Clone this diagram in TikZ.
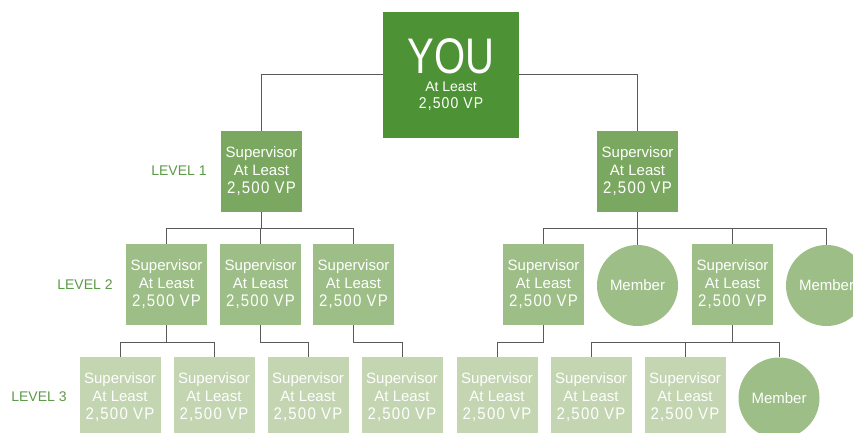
\documentclass[tikz,border=0pt]{standalone}
\usepackage{fontspec}
\setmainfont{Liberation Sans}
\usepackage{graphicx}
\definecolor{cyou}{HTML}{4E9236}
\definecolor{cone}{HTML}{7BA860}
\definecolor{ctwo}{HTML}{9EBE88}
\definecolor{cthree}{HTML}{C4D5B2}
\definecolor{clabel}{HTML}{5A9A48}
\definecolor{cline}{HTML}{5A5A5A}
\newcommand\vpline{\scalebox{1}[1.12]{\addfontfeature{LetterSpace=8}2,500 VP}}
\newcommand\suptext{Supervisor\\At Least\\\vpline}
\tikzset{
  box/.style={rectangle, minimum width=81pt, minimum height=81pt, inner sep=0pt,
    text=white, align=center, font=\fontsize{15}{18}\selectfont},
  lone/.style={box, fill=cone},
  ltwo/.style={box, fill=ctwo},
  lthree/.style={box, fill=cthree},
  member/.style={circle, minimum size=81pt, inner sep=0pt, fill=ctwo, text=white,
    font=\fontsize{15}{18}\selectfont},
  lvl/.style={text=clabel, font=\fontsize{14}{16}\selectfont},
  conn/.style={draw=cline, line width=1pt}
}
\begin{document}
\begin{tikzpicture}[x=1pt,y=-1pt]
\clip (0,0) rectangle (853,433);
\fill[white] (0,0) rectangle (853,433);
% nodes
\node[rectangle, fill=cyou, minimum width=136pt, minimum height=126pt, inner sep=0pt,
  text=white, align=center, font=\fontsize{14}{16}\selectfont] (you) at (451,75)
  {{\fontsize{50}{50}\selectfont\scalebox{0.8}[1]{YOU}}\\[2pt]At Least\\[1pt]\vpline};
\node[lone] (l1a) at (261.5,171.5) {\suptext};
\node[lone] (l1b) at (637.5,171.5) {\suptext};
\node[ltwo] (l2a) at (166.5,284.5) {\suptext};
\node[ltwo] (l2b) at (260.5,284.5) {\suptext};
\node[ltwo] (l2c) at (353.5,284.5) {\suptext};
\node[ltwo] (l2d) at (543.5,284.5) {\suptext};
\node[member] (m2a) at (637.5,285.5) {Member};
\node[ltwo] (l2e) at (732.5,284.5) {\suptext};
\node[member] (m2b) at (826.5,285.5) {Member};
\node[lthree] (l3a) at (120,397.5) {\suptext};
\node[lthree] (l3b) at (214,397.5) {\suptext};
\node[lthree] (l3c) at (308,397.5) {\suptext};
\node[lthree] (l3d) at (402,397.5) {\suptext};
\node[lthree] (l3e) at (497,397.5) {\suptext};
\node[lthree] (l3f) at (591,397.5) {\suptext};
\node[lthree] (l3g) at (685,397.5) {\suptext};
\node[member] (m3) at (779,398) {Member};
% level labels
\node[lvl] (lv1) at (179,171) {LEVEL 1};
\node[lvl] (lv2) at (85,285) {LEVEL 2};
\node[lvl] (lv3) at (39,397) {LEVEL 3};
% helper levels
\coordinate (h1) at (0,228);
\coordinate (h2) at (0,342);
% connectors
\draw[conn] (you.west) -| (l1a.north);
\draw[conn] (you.east) -| (l1b.north);
\foreach \c in {l2a,l2b,l2c} {\draw[conn] (l1a.south) -- (l1a.south |- h1) -| (\c.north);}
\foreach \c in {l2d,m2a,l2e,m2b} {\draw[conn] (l1b.south) -- (l1b.south |- h1) -| (\c.north);}
\foreach \c in {l3a,l3b} {\draw[conn] (l2a.south) -- (l2a.south |- h2) -| (\c.north);}
\draw[conn] (l2b.south) -- (l2b.south |- h2) -| (l3c.north);
\draw[conn] (l2c.south) -- (l2c.south |- h2) -| (l3d.north);
\draw[conn] (l2d.south) -- (l2d.south |- h2) -| (l3e.north);
\foreach \c in {l3f,l3g,m3} {\draw[conn] (l2e.south) -- (l2e.south |- h2) -| (\c.north);}
\end{tikzpicture}
\end{document}
